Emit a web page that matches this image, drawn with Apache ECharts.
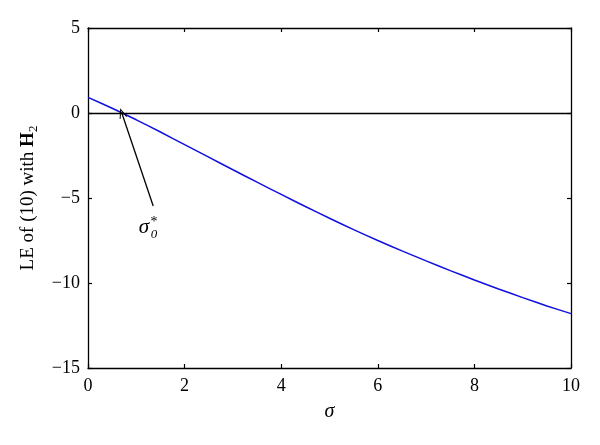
<!DOCTYPE html>
<html>
<head>
<meta charset="utf-8">
<script src="https://cdn.jsdelivr.net/npm/echarts@6/dist/echarts.min.js"></script>
<style>html,body{margin:0;padding:0;background:#fff;}#c{width:600px;height:445px;}</style>
</head>
<body>
<div id="c"></div>
<script>
// Data
const sigma = [0, 0.5, 1, 1.5, 2, 2.5, 3, 3.5, 4, 4.5, 5, 5.5, 6, 6.5, 7, 7.5, 8, 8.5, 9, 9.5, 10];
const le    = [0.92, 0.28, -0.40, -1.12, -1.86, -2.60, -3.34, -4.07, -4.79, -5.50, -6.19, -6.86, -7.50, -8.11, -8.70, -9.27, -9.82, -10.35, -10.86, -11.35, -11.80];
const xTicks = [0, 2, 4, 6, 8, 10];
const yTicks = [-15, -10, -5, 0, 5];
// annotation: arrow from label to the zero crossing
const arrowTail = [1.35, -5.47];
const arrowHead = [0.70, 0];
const labelPos = [1.16, -6.76];

const FONT = '"Liberation Serif", "Times New Roman", serif';
const minus = v => String(v).replace('-', '\u2212');

const chart = echarts.init(document.getElementById('c'), null, {renderer: 'canvas'});
const axisLine = {show: true, onZero: false, lineStyle: {color: '#000', width: 1.3}};
const tick = {show: true, inside: true, length: 4, lineStyle: {color: '#000', width: 1.2}};
const option = {
  animation: false,
  backgroundColor: '#fff',
  grid: {left: 88, right: 29, top: 28, bottom: 77, show: false},
  xAxis: [{
    type: 'value', min: xTicks[0], max: xTicks[xTicks.length - 1], interval: 2,
    position: 'bottom',
    axisLine: axisLine, axisTick: tick,
    splitLine: {show: false},
    axisLabel: {color: '#000', fontFamily: FONT, fontSize: 18, margin: 9, formatter: minus},
    name: 'σ', nameLocation: 'middle', nameGap: 34,
    nameTextStyle: {color: '#000', fontFamily: FONT, fontSize: 20, fontStyle: 'italic'}
  }, {
    type: 'value', min: xTicks[0], max: xTicks[xTicks.length - 1], interval: 2,
    position: 'top',
    axisLine: axisLine, axisTick: tick,
    splitLine: {show: false}, axisLabel: {show: false}
  }],
  yAxis: [{
    type: 'value', min: yTicks[0], max: yTicks[yTicks.length - 1], interval: 5,
    position: 'left',
    axisLine: axisLine, axisTick: tick,
    splitLine: {show: false},
    axisLabel: {color: '#000', fontFamily: FONT, fontSize: 18, margin: 8, formatter: minus},
    name: '{a|LE of (10) with }{b|H}{c|2}', nameLocation: 'middle', nameGap: 47,
    nameTextStyle: {
      color: '#000', fontFamily: FONT, fontSize: 19,
      rich: {
        a: {fontFamily: FONT, fontSize: 19, color: '#000', lineHeight: 26, verticalAlign: 'middle'},
        b: {fontFamily: FONT, fontSize: 19, fontWeight: 'bold', color: '#000', lineHeight: 26, verticalAlign: 'middle'},
        c: {fontFamily: FONT, fontSize: 13, color: '#000', lineHeight: 26, verticalAlign: 'bottom', padding: [0, 0, 1, 0]}
      }
    }
  }, {
    type: 'value', min: yTicks[0], max: yTicks[yTicks.length - 1], interval: 5,
    position: 'right',
    axisLine: axisLine, axisTick: tick,
    splitLine: {show: false}, axisLabel: {show: false}
  }],
  series: [{
    type: 'line',
    data: sigma.map((x, i) => [x, le[i]]),
    showSymbol: false,
    smooth: 0.2,
    lineStyle: {color: '#1010e0', width: 1.5},
    markLine: {
      silent: true,
      symbol: ['none', 'none'],
      label: {show: false},
      data: [
        [{coord: arrowTail, symbol: 'none'},
         {coord: arrowHead, symbol: 'path://M0,10 L5,0 L10,10 L8.6,10 L5,2.6 L1.4,10 Z', symbolSize: [8, 10]}],
        {yAxis: 0}
      ],
      lineStyle: {color: '#000', width: 1.3, type: 'solid'}
    },
    z: 3
  }]
};
chart.setOption(option);

const p = chart.convertToPixel({gridIndex: 0}, labelPos);
chart.setOption({
  graphic: [
    {type: 'text', x: p[0], y: p[1], style: {text: 'σ', font: 'italic 21px ' + FONT, fill: '#000', align: 'center', verticalAlign: 'middle'}},
    {type: 'text', x: p[0] + 10, y: p[1] - 6, style: {text: '*', font: '14px ' + FONT, fill: '#000', align: 'center', verticalAlign: 'middle'}},
    {type: 'text', x: p[0] + 10, y: p[1] + 7, style: {text: '0', font: 'italic 13px ' + FONT, fill: '#000', align: 'center', verticalAlign: 'middle'}}
  ]
});
</script>
</body>
</html>
